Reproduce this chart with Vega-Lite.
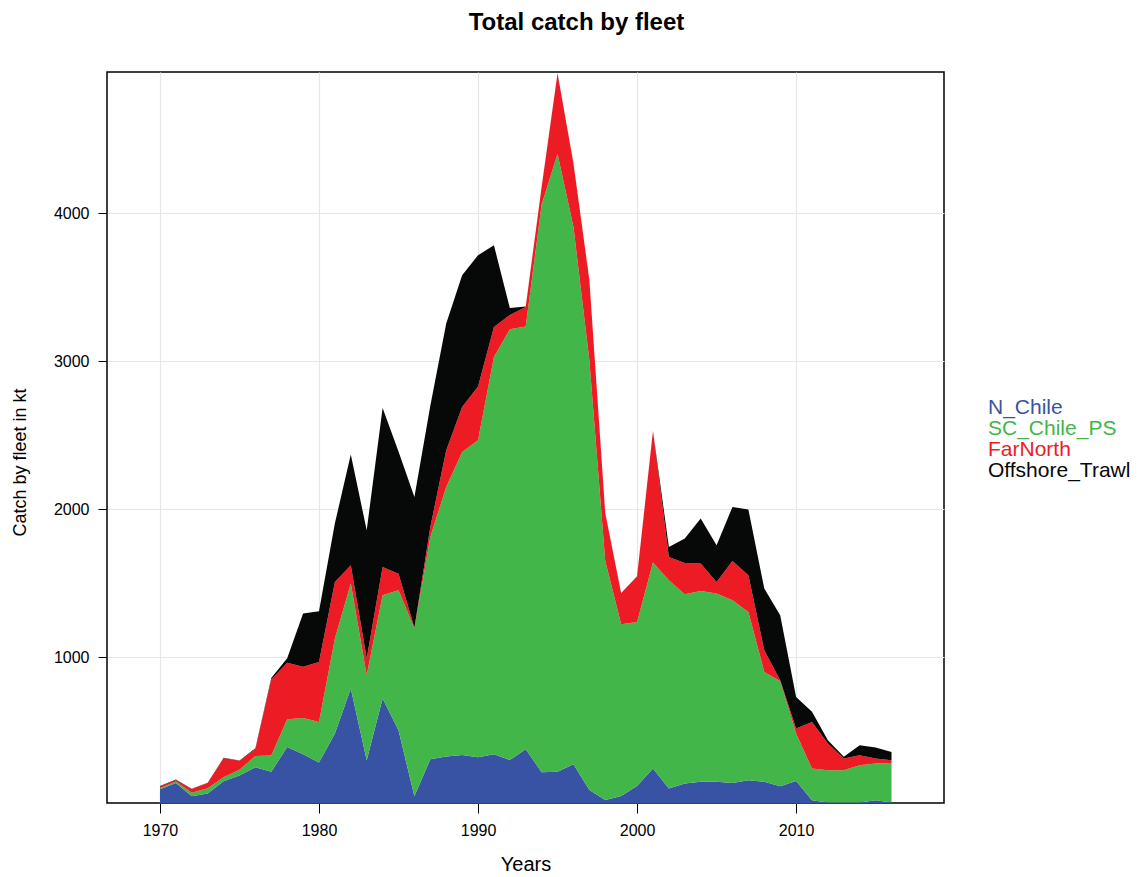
{
  "$schema": "https://vega.github.io/schema/vega-lite/v6.json",
  "width": 837,
  "height": 731,
  "autosize": {"type": "none"},
  "padding": {"left": 107, "top": 72, "right": 193, "bottom": 74},
  "background": "white",
  "title": {
    "text": "Total catch by fleet",
    "font": "Liberation Sans",
    "fontSize": 24,
    "fontWeight": "bold",
    "color": "black",
    "anchor": "middle",
    "frame": "group",
    "dx": 51,
    "offset": 37
  },
  "config": {
    "view": {"stroke": "black", "strokeWidth": 1.5},
    "axis": {
      "labelFont": "Liberation Sans",
      "titleFont": "Liberation Sans",
      "labelColor": "black",
      "titleColor": "black",
      "tickColor": "black",
      "gridColor": "#e6e6e6",
      "gridWidth": 1.2,
      "domain": false,
      "titleFontWeight": "normal"
    }
  },
  "data": {
    "values": [
      {"year": 1970, "N_Chile": 108, "SC_Chile_PS": 7, "FarNorth": 11, "Offshore_Trawl": 4},
      {"year": 1971, "N_Chile": 150, "SC_Chile_PS": 10, "FarNorth": 11, "Offshore_Trawl": 3},
      {"year": 1972, "N_Chile": 60, "SC_Chile_PS": 25, "FarNorth": 25, "Offshore_Trawl": 2},
      {"year": 1973, "N_Chile": 80, "SC_Chile_PS": 35, "FarNorth": 35, "Offshore_Trawl": 2},
      {"year": 1974, "N_Chile": 162, "SC_Chile_PS": 27, "FarNorth": 129, "Offshore_Trawl": 2},
      {"year": 1975, "N_Chile": 200, "SC_Chile_PS": 39, "FarNorth": 62, "Offshore_Trawl": 2},
      {"year": 1976, "N_Chile": 256, "SC_Chile_PS": 77, "FarNorth": 47, "Offshore_Trawl": 5},
      {"year": 1977, "N_Chile": 226, "SC_Chile_PS": 110, "FarNorth": 514, "Offshore_Trawl": 10},
      {"year": 1978, "N_Chile": 394, "SC_Chile_PS": 187, "FarNorth": 381, "Offshore_Trawl": 31},
      {"year": 1979, "N_Chile": 345, "SC_Chile_PS": 245, "FarNorth": 345, "Offshore_Trawl": 360},
      {"year": 1980, "N_Chile": 288, "SC_Chile_PS": 275, "FarNorth": 405, "Offshore_Trawl": 343},
      {"year": 1981, "N_Chile": 484, "SC_Chile_PS": 642, "FarNorth": 383, "Offshore_Trawl": 396},
      {"year": 1982, "N_Chile": 788, "SC_Chile_PS": 710, "FarNorth": 124, "Offshore_Trawl": 748},
      {"year": 1983, "N_Chile": 304, "SC_Chile_PS": 574, "FarNorth": 113, "Offshore_Trawl": 867},
      {"year": 1984, "N_Chile": 721, "SC_Chile_PS": 698, "FarNorth": 191, "Offshore_Trawl": 1075},
      {"year": 1985, "N_Chile": 507, "SC_Chile_PS": 946, "FarNorth": 112, "Offshore_Trawl": 825},
      {"year": 1986, "N_Chile": 60, "SC_Chile_PS": 1134, "FarNorth": 6, "Offshore_Trawl": 883},
      {"year": 1987, "N_Chile": 311, "SC_Chile_PS": 1502, "FarNorth": 67, "Offshore_Trawl": 820},
      {"year": 1988, "N_Chile": 329, "SC_Chile_PS": 1822, "FarNorth": 248, "Offshore_Trawl": 856},
      {"year": 1989, "N_Chile": 340, "SC_Chile_PS": 2047, "FarNorth": 304, "Offshore_Trawl": 890},
      {"year": 1990, "N_Chile": 324, "SC_Chile_PS": 2142, "FarNorth": 364, "Offshore_Trawl": 886},
      {"year": 1991, "N_Chile": 344, "SC_Chile_PS": 2685, "FarNorth": 203, "Offshore_Trawl": 552},
      {"year": 1992, "N_Chile": 306, "SC_Chile_PS": 2910, "FarNorth": 96, "Offshore_Trawl": 48},
      {"year": 1993, "N_Chile": 378, "SC_Chile_PS": 2857, "FarNorth": 132, "Offshore_Trawl": 3},
      {"year": 1994, "N_Chile": 223, "SC_Chile_PS": 3837, "FarNorth": 118, "Offshore_Trawl": 2},
      {"year": 1995, "N_Chile": 227, "SC_Chile_PS": 4176, "FarNorth": 541, "Offshore_Trawl": 2},
      {"year": 1996, "N_Chile": 277, "SC_Chile_PS": 3632, "FarNorth": 427, "Offshore_Trawl": 2},
      {"year": 1997, "N_Chile": 103, "SC_Chile_PS": 2906, "FarNorth": 540, "Offshore_Trawl": 2},
      {"year": 1998, "N_Chile": 36, "SC_Chile_PS": 1614, "FarNorth": 323, "Offshore_Trawl": 2},
      {"year": 1999, "N_Chile": 63, "SC_Chile_PS": 1160, "FarNorth": 209, "Offshore_Trawl": 2},
      {"year": 2000, "N_Chile": 130, "SC_Chile_PS": 1109, "FarNorth": 306, "Offshore_Trawl": 2},
      {"year": 2001, "N_Chile": 248, "SC_Chile_PS": 1392, "FarNorth": 889, "Offshore_Trawl": 2},
      {"year": 2002, "N_Chile": 113, "SC_Chile_PS": 1407, "FarNorth": 158, "Offshore_Trawl": 67},
      {"year": 2003, "N_Chile": 146, "SC_Chile_PS": 1280, "FarNorth": 211, "Offshore_Trawl": 165},
      {"year": 2004, "N_Chile": 158, "SC_Chile_PS": 1290, "FarNorth": 185, "Offshore_Trawl": 304},
      {"year": 2005, "N_Chile": 158, "SC_Chile_PS": 1272, "FarNorth": 79, "Offshore_Trawl": 248},
      {"year": 2006, "N_Chile": 151, "SC_Chile_PS": 1234, "FarNorth": 266, "Offshore_Trawl": 365},
      {"year": 2007, "N_Chile": 169, "SC_Chile_PS": 1137, "FarNorth": 248, "Offshore_Trawl": 444},
      {"year": 2008, "N_Chile": 158, "SC_Chile_PS": 743, "FarNorth": 146, "Offshore_Trawl": 417},
      {"year": 2009, "N_Chile": 128, "SC_Chile_PS": 710, "FarNorth": 7, "Offshore_Trawl": 439},
      {"year": 2010, "N_Chile": 164, "SC_Chile_PS": 320, "FarNorth": 34, "Offshore_Trawl": 214},
      {"year": 2011, "N_Chile": 34, "SC_Chile_PS": 214, "FarNorth": 315, "Offshore_Trawl": 68},
      {"year": 2012, "N_Chile": 18, "SC_Chile_PS": 218, "FarNorth": 181, "Offshore_Trawl": 22},
      {"year": 2013, "N_Chile": 18, "SC_Chile_PS": 218, "FarNorth": 79, "Offshore_Trawl": 12},
      {"year": 2014, "N_Chile": 18, "SC_Chile_PS": 252, "FarNorth": 68, "Offshore_Trawl": 67},
      {"year": 2015, "N_Chile": 34, "SC_Chile_PS": 248, "FarNorth": 33, "Offshore_Trawl": 75},
      {"year": 2016, "N_Chile": 18, "SC_Chile_PS": 268, "FarNorth": 18, "Offshore_Trawl": 56}
    ]
  },
  "transform": [
    {"fold": ["N_Chile", "SC_Chile_PS", "FarNorth", "Offshore_Trawl"], "as": ["fleet", "catch"]},
    {"calculate": "indexof(['N_Chile','SC_Chile_PS','FarNorth','Offshore_Trawl'], datum.fleet)", "as": "stackOrder"}
  ],
  "mark": {"type": "area", "clip": true, "interpolate": "linear"},
  "encoding": {
    "x": {
      "field": "year",
      "type": "quantitative",
      "scale": {"domain": [1966.67, 2019.3], "nice": false, "zero": false},
      "axis": {
        "values": [1970, 1980, 1990, 2000, 2010],
        "format": "d",
        "title": "Years",
        "labelFontSize": 16,
        "titleFontSize": 20,
        "tickSize": 10,
        "labelPadding": 9,
        "titlePadding": 16,
        "grid": true
      }
    },
    "y": {
      "field": "catch",
      "type": "quantitative",
      "stack": "zero",
      "scale": {"domain": [15, 4955], "nice": false, "zero": false},
      "axis": {
        "values": [1000, 2000, 3000, 4000],
        "format": "d",
        "title": "Catch by fleet in kt",
        "labelFontSize": 16,
        "titleFontSize": 18,
        "tickSize": 9,
        "labelPadding": 9,
        "titlePadding": 24,
        "titleY": 390,
        "grid": true
      }
    },
    "color": {
      "field": "fleet",
      "type": "nominal",
      "scale": {
        "domain": ["N_Chile", "SC_Chile_PS", "FarNorth", "Offshore_Trawl"],
        "range": ["#3953a4", "#42b649", "#ed1c24", "#070808"]
      },
      "legend": {
        "orient": "none",
        "legendX": 860,
        "legendY": 325,
        "title": null,
        "symbolSize": 0,
        "symbolStrokeWidth": 0,
        "symbolOpacity": 0,
        "labelOffset": 0,
        "padding": 0,
        "rowPadding": -1,
        "labelFont": "Liberation Sans",
        "labelFontSize": 21,
        "labelLimit": 300,
        "encode": {
          "labels": {"update": {"fill": {"scale": "color", "field": "value"}}}
        }
      }
    },
    "order": {"field": "stackOrder", "type": "quantitative"}
  }
}
